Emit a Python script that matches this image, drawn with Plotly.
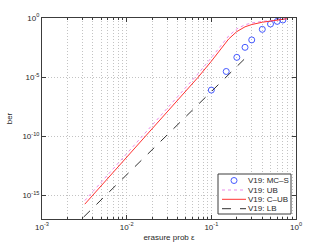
import plotly.graph_objects as go

# MC-S simulation points
mc_eps = [0.1, 0.15, 0.2, 0.25, 0.3, 0.4, 0.5, 0.6, 0.7]
mc_ber = [8e-7, 3e-5, 4.7e-4, 3.3e-3, 1.4e-2, 0.11, 0.31, 0.52, 0.68]

# C-UB (red solid)
cub_eps = [0.0032, 0.005, 0.01, 0.02, 0.03, 0.05, 0.07, 0.1, 0.13, 0.16, 0.2, 0.25, 0.3, 0.35, 0.4, 0.5, 0.6, 0.7, 0.8]
cub_ber = [1.8e-16, 6.5e-15, 1.7e-12, 4.2e-10, 1.07e-8, 6.3e-7, 1.0e-5, 2.2e-4, 2.5e-3, 1.66e-2, 7.1e-2, 0.18, 0.28, 0.37, 0.44, 0.55, 0.68, 0.8, 0.89]

# UB (magenta dotted)
ub_eps = [0.0032, 0.005, 0.01, 0.02, 0.03, 0.05, 0.07, 0.1, 0.13, 0.16, 0.2, 0.25, 0.3, 0.35, 0.4, 0.5, 0.6, 0.7, 0.8]
ub_ber = [3.6e-16, 1.3e-14, 3.4e-12, 8.4e-10, 2.1e-8, 1.25e-6, 2.0e-5, 4.4e-4, 4.8e-3, 3.0e-2, 0.12, 0.27, 0.38, 0.46, 0.52, 0.6, 0.7, 0.8, 0.89]

# LB (black dashed)
lb_eps = [0.0031, 0.01, 0.1, 0.25]
lb_ber = [1.45e-17, 5.2e-14, 6.0e-7, 3.8e-4]

series_names = ["V19: MC\u2013S", "V19: UB", "V19: C\u2013UB", "V19: LB"]

x_major = [1e-3, 1e-2, 1e-1, 1e0]
x_major_text = ["10<sup>-3</sup>", "10<sup>-2</sup>", "10<sup>-1</sup>", "10<sup>0</sup>"]
x_minor = [m * d for d in [1e-3, 1e-2, 1e-1] for m in range(2, 10)]
y_major = [1e-15, 1e-10, 1e-5, 1e0]
y_major_text = ["10<sup>-15</sup>", "10<sup>-10</sup>", "10<sup>-5</sup>", "10<sup>0</sup>"]

C_MC = "rgb(70,90,255)"
C_UB = "rgb(235,140,235)"
C_CUB = "rgb(255,50,50)"
C_LB = "rgb(50,50,50)"
TXT = "rgb(40,40,40)"
FONT = "Liberation Sans"

fig = go.Figure()
fig.add_trace(go.Scatter(x=mc_eps, y=mc_ber, mode="markers", name=series_names[0],
                         marker=dict(symbol="circle-open", size=6, color=C_MC, line=dict(width=1))))
fig.add_trace(go.Scatter(x=ub_eps, y=ub_ber, mode="lines", name=series_names[1],
                         line=dict(color=C_UB, width=1, dash="dot")))
fig.add_trace(go.Scatter(x=cub_eps, y=cub_ber, mode="lines", name=series_names[2],
                         line=dict(color=C_CUB, width=1)))
fig.add_trace(go.Scatter(x=lb_eps, y=lb_ber, mode="lines", name=series_names[3],
                         line=dict(color=C_LB, width=1, dash="dash")))

grid = dict(showgrid=True, gridcolor="rgb(195,195,195)", griddash="1px,2px", gridwidth=1)
axis_common = dict(showline=True, linecolor="rgb(60,60,60)", linewidth=1, mirror="ticks",
                   ticks="inside", ticklen=4, tickcolor="rgb(60,60,60)", automargin=False,
                   zeroline=False, tickfont=dict(size=8, color=TXT, family=FONT), **grid)

fig.update_xaxes(type="log", range=[-3, 0], tickvals=x_major, ticktext=x_major_text,
                 minor=dict(tickvals=x_minor, ticks="inside", ticklen=2, tickcolor="rgb(60,60,60)", **grid),
                 title=dict(text="erasure prob \u03b5", font=dict(size=8, color=TXT, family=FONT), standoff=3),
                 **axis_common)
fig.update_yaxes(type="log", range=[-17, 0], tickvals=y_major, ticktext=y_major_text,
                 title=dict(text="ber", font=dict(size=8, color=TXT, family=FONT), standoff=8),
                 **axis_common)

# custom compact legend (MATLAB style)
L, T_ = 42, 18
PW, PH = 254, 201
def px(xp):
    return (xp - L) / PW
def py(yp):
    return (T_ + PH - yp) / PH

box = dict(x0=218, x1=291, y0=174, y1=214)
entry_y = [180.5, 190, 199.3, 208.7]
sym_x0, sym_x1, txt_x = 222, 246, 247

shapes = [dict(type="rect", xref="paper", yref="paper",
               x0=px(box["x0"]), x1=px(box["x1"]), y0=py(box["y1"]), y1=py(box["y0"]),
               line=dict(color="rgb(60,60,60)", width=1), fillcolor="white", layer="above")]
shapes.append(dict(type="circle", xref="paper", yref="paper", xsizemode="pixel", ysizemode="pixel",
                   xanchor=px((sym_x0 + sym_x1) / 2), yanchor=py(entry_y[0]),
                   x0=-3, x1=3, y0=-3, y1=3, line=dict(color=C_MC, width=1), layer="above"))
for yy, col, dash in [(entry_y[1], C_UB, "dot"), (entry_y[2], C_CUB, "solid"), (entry_y[3], C_LB, "dash")]:
    shapes.append(dict(type="line", xref="paper", yref="paper",
                       x0=px(sym_x0), x1=px(sym_x1), y0=py(yy), y1=py(yy),
                       line=dict(color=col, width=1, dash=dash), layer="above"))

annotations = [dict(text=name, xref="paper", yref="paper", x=px(txt_x), y=py(yy),
                    xanchor="left", yanchor="middle", showarrow=False, borderpad=0,
                    font=dict(size=8, color=TXT, family=FONT))
               for name, yy in zip(series_names, entry_y)]

fig.update_layout(
    width=327, height=246,
    margin=dict(l=L, r=327 - L - PW, t=T_, b=246 - T_ - PH),
    paper_bgcolor="white", plot_bgcolor="white",
    font=dict(family=FONT, size=8, color=TXT),
    showlegend=False,
    shapes=shapes,
    annotations=annotations,
)

fig.write_html("out.html", config={"displayModeBar": False},
               post_script="document.body.style.margin='0';document.body.style.padding='0';")
